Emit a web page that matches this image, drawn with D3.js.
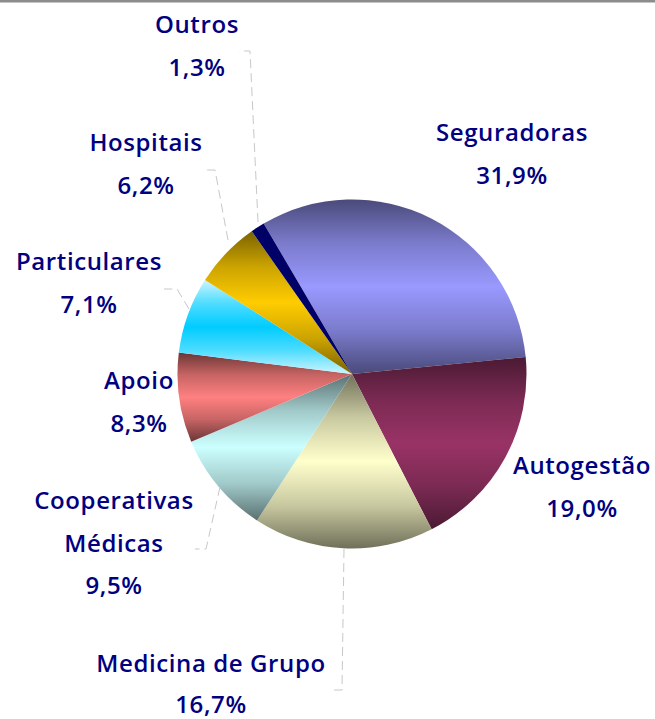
<!DOCTYPE html>
<html><head><meta charset="utf-8">
<script src="https://cdn.jsdelivr.net/npm/d3@7"></script>
<style>html,body{margin:0;padding:0;background:#fff;overflow:hidden}svg{display:block}</style>
</head><body><svg id="c" width="655" height="719"></svg>
<script>
const categories=["Seguradoras","Autogestão","Medicina de Grupo","Cooperativas Médicas","Apoio","Particulares","Hospitais","Outros"];
const shares=[31.9,19.0,16.7,9.5,8.3,7.1,6.2,1.3];
const shareLabels=["31,9%","19,0%","16,7%","9,5%","8,3%","7,1%","6,2%","1,3%"];
const midColors=["#9999ff","#993366","#ffffcc","#ccffff","#ff8080","#00ccff","#ffcc00","#000066"];
const edgeColors=["#4a4a7a","#4a1a33","#70705a","#5a7070","#6b3636","#ccf5ff","#7a6200","#000066"];
const labelLines=[["Seguradoras"],["Autogestão"],["Medicina de Grupo"],["Cooperativas","Médicas"],["Apoio"],["Particulares"],["Hospitais"],["Outros"]];
const labelX=[512,582,211,114,139,89,146,197];
const labelY=[133,466,664,501,381,262,143,25];
const labelGap=[42.5,42.5,41,42.5,42.5,42.5,42.5,42.5];
const leaders=[[],[],[[344,549],[342,690],[330,690]],[[220,487],[206,549],[195,549]],[],[[189,309],[177,289],[164,289]],[[228,240],[215,170],[204,170]],[[258,222],[250,51],[239,51]]];

const svg=d3.select("#c");
const cx=352,cy=374,r=174.5;
svg.append("rect").attr("x",0).attr("y",0).attr("width",655).attr("height",2.5).attr("fill","#8c8c8c");
const start=-30.4*Math.PI/180;
const pie=d3.pie().sort(null).startAngle(start).endAngle(start+2*Math.PI)(shares);
const arc=d3.arc().innerRadius(0).outerRadius(r);
const defs=svg.append("defs");
pie.forEach((d,i)=>{
  const g=defs.append("linearGradient").attr("id","g"+i).attr("x1",0).attr("y1",0).attr("x2",0).attr("y2",1);
  const shoulder=d3.interpolateRgb(edgeColors[i],midColors[i])(0.62);
  g.append("stop").attr("offset","0%").attr("stop-color",edgeColors[i]);
  g.append("stop").attr("offset","25%").attr("stop-color",shoulder);
  g.append("stop").attr("offset","50%").attr("stop-color",midColors[i]);
  g.append("stop").attr("offset","75%").attr("stop-color",shoulder);
  g.append("stop").attr("offset","100%").attr("stop-color",edgeColors[i]);
});
const root=svg.append("g").attr("transform",`translate(${cx},${cy})`);
root.selectAll("path").data(pie).join("path").attr("d",arc).attr("fill",(d,i)=>`url(#g${i})`);
const line=d3.line();
svg.append("g").selectAll("path").data(leaders.filter(l=>l.length)).join("path")
  .attr("d",line).attr("fill","none").attr("stroke","#c8c8c8").attr("stroke-width",1).attr("stroke-dasharray","9 5");
const tg=svg.append("g").attr("fill","#000080").attr("font-family","'Open Sans',sans-serif").attr("font-weight",600).attr("font-size",24).attr("letter-spacing",0.6).attr("text-anchor","middle");
categories.forEach((c,i)=>{
  const lines=[...labelLines[i],shareLabels[i]];
  const t=tg.append("text");
  lines.forEach((s,k)=>t.append("tspan").attr("x",labelX[i]).attr("y",labelY[i]+8+k*labelGap[i]).text(s));
});
</script></body></html>
